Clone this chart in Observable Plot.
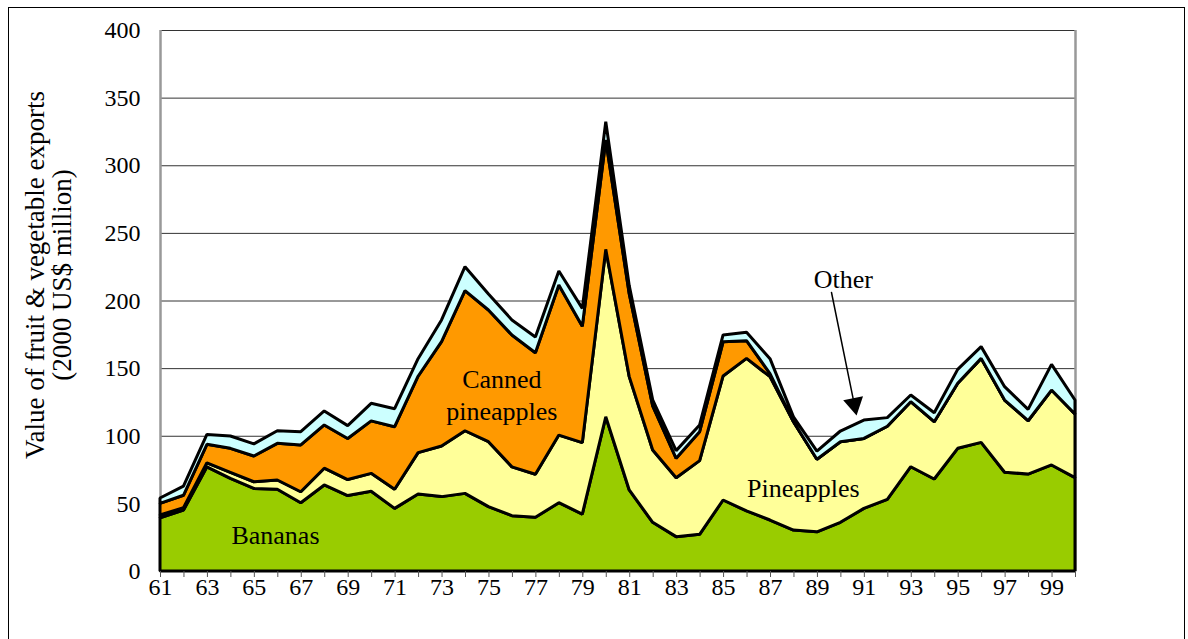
<!DOCTYPE html>
<html>
<head>
<meta charset="utf-8">
<script src="https://cdn.jsdelivr.net/npm/d3@7"></script>
<script src="https://cdn.jsdelivr.net/npm/@observablehq/plot@0.6"></script>
<style>
  html, body { margin: 0; padding: 0; background: #fff; }
  #wrap { position: relative; width: 1188px; height: 639px; overflow: hidden; }
  #border { position: absolute; left: 8px; top: 7px; width: 1175px; height: 640px; border: 1px solid #000; pointer-events: none; }
</style>
</head>
<body>
<div id="wrap"><div id="border"></div></div>
<script>
// ---- Data (values in 2000 US$ million) ----
const years = [61,62,63,64,65,66,67,68,69,70,71,72,73,74,75,76,77,78,79,80,
               81,82,83,84,85,86,87,88,89,90,91,92,93,94,95,96,97,98,99,100];
const bananas = [39.4,45.0,77.0,68.5,61.0,60.4,50.5,63.6,55.8,59.0,46.3,57.0,55.0,57.4,47.6,40.9,39.7,50.5,42.1,114.0,
                 59.9,36.0,25.4,27.1,52.5,44.4,37.7,30.3,29.0,36.0,46.3,53.0,77.1,68.0,90.7,95.1,73.0,71.7,78.4,69.0];
const pineapples = [2.0,1.8,3.0,4.5,5.0,6.9,8.1,12.4,11.8,13.2,14.1,30.5,37.4,46.3,48.0,36.1,31.8,50.0,52.8,123.8,
                    83.8,53.5,43.6,54.5,91.7,112.8,106.0,80.1,53.6,59.6,51.7,54.0,48.1,42.4,48.1,62.1,53.4,39.4,55.4,47.1];
const cannedPineapples = [8.6,9.2,13.7,17.7,19.0,27.1,34.6,32.0,30.4,38.8,46.3,56.5,77.2,103.6,97.4,97.5,89.9,111.0,86.1,80.9,
                          61.3,32.5,14.3,21.4,25.3,13.1,2.3,0,0,0,0,0,0,0,0,0,0,0,0,0];
const other = [4.0,6.8,7.3,9.1,9.0,9.3,9.8,10.3,9.5,13.0,13.3,13.0,16.0,17.7,11.8,11.1,11.6,10.3,13.2,13.5,
               6.0,4.5,5.7,5.0,5.0,6.2,11.0,3.6,6.1,7.9,13.6,6.4,4.9,6.6,10.3,8.7,9.9,8.4,19.0,10.3];
const seriesNames = ["Bananas","Pineapples","Canned pineapples","Other"];
const seriesColors = ["#99CC00","#FFFF99","#FF9900","#CCFFFF"];
const yTicks = [0,50,100,150,200,250,300,350,400];
const xTickLabels = ["61","63","65","67","69","71","73","75","77","79","81","83","85","87","89","91","93","95","97","99"];
const yTitle = "Value of fruit & vegetable exports\n(2000 US$ million)";

// Annotations (data coordinates)
const annotLabels = ["Bananas","Pineapples","Canned\npineapples","Other"];
const annotX = [65.9, 88.4, 75.55, 90.1];
const annotY = [28, 62.8, 131.5, 217.4];
const arrowFrom = {x: 89.6, y: 206.3};
const arrowTip = {x: 90.57, y: 123.8};

// ---- Build table ----
const seriesValues = [bananas, pineapples, cannedPineapples, other];
const rows = [];
seriesNames.forEach((name, k) => years.forEach((yr, i) => rows.push({year: yr, series: name, value: seriesValues[k][i]})));
const annots = annotLabels.map((t, i) => ({text: t, x: annotX[i], y: annotY[i]}));

const chart = Plot.plot({
  width: 1188,
  height: 639,
  marginLeft: 160,
  marginRight: 113,
  marginTop: 30,
  marginBottom: 68,
  style: {fontFamily: "'Liberation Serif', 'Times New Roman', serif", fontSize: "24px", background: "transparent", color: "#000"},
  x: {type: "linear", domain: [61, 100]},
  y: {domain: [0, 400]},
  color: {domain: seriesNames, range: seriesColors},
  marks: [
    Plot.gridY(yTicks.filter(d => d > 0), {stroke: "#333", strokeOpacity: 1, strokeWidth: 1}),
    Plot.ruleX([61], {stroke: "#999", strokeWidth: 2.5}),
    Plot.ruleX([100], {stroke: "#999", strokeWidth: 2.5}),
    Plot.areaY(rows, {x: "year", y: "value", z: "series", fill: "series", stroke: "#000", strokeWidth: 3, strokeLinejoin: "miter", order: seriesNames}),
    Plot.axisY({ticks: yTicks, tickSize: 0, tickPadding: 20, fontSize: 24}),
    Plot.axisX({ticks: years, tickSize: 6, tickPadding: 0, stroke: "#555", fontSize: 24,
                tickFormat: d => xTickLabels.includes(String(d)) ? String(d) : ""}),
    Plot.text([yTitle], {text: d => d, frameAnchor: "left", textAnchor: "middle", rotate: -90, dx: -112, dy: -26, fontSize: 27, lineAnchor: "middle", lineHeight: 1.0}),
    Plot.text(annots, {x: "x", y: "y", text: "text", fontSize: 26, lineAnchor: "middle", lineHeight: 1.25}),
    Plot.arrow([{x1: arrowFrom.x, y1: arrowFrom.y, x2: arrowTip.x, y2: arrowTip.y}], {x1: "x1", y1: "y1", x2: "x2", y2: "y2", headLength: 0, stroke: "#000", strokeWidth: 1.5}),
    Plot.dot([arrowTip], {x: "x", y: "y", symbol: "triangle", r: 7.5, fill: "#000", stroke: "none", rotate: 168.5})
  ]
});
document.getElementById("wrap").appendChild(chart);
</script>
</body>
</html>
